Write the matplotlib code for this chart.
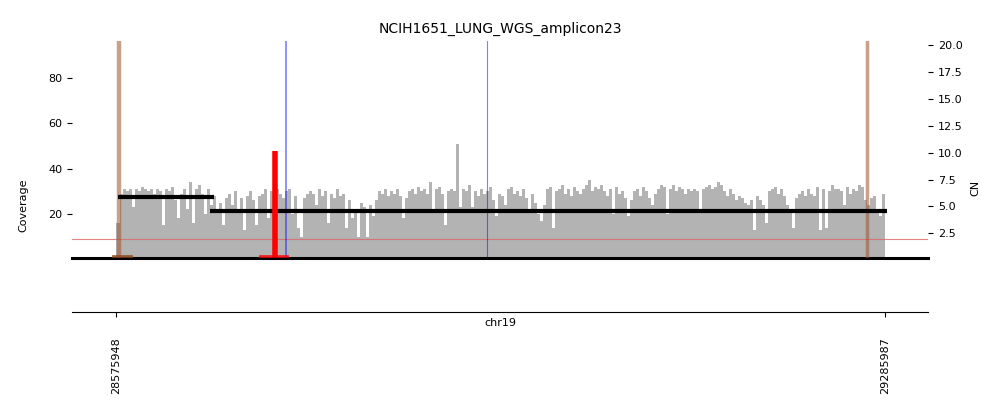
import numpy as np
import matplotlib
matplotlib.use('Agg')
import matplotlib.pyplot as plt

plt.rcParams['font.family'] = ['DejaVu Sans']

# 区间和标题
title = 'NCIH1651_LUNG_WGS_amplicon23'
chrom = 'chr19'
start = 28575948
end = 29285987

# 覆盖度 (每个 bin 一个值, 从 start 到 end 等分)
coverage = [
    16, 29, 31, 30, 31, 23, 31, 30, 32, 31, 30, 31, 29, 31, 30, 15,
    31, 30, 32, 26, 18, 29, 31, 22, 34, 16, 31, 33, 29, 20, 31, 24,
    28, 22, 25, 15, 27, 29, 24, 30, 21, 27, 13, 28, 30, 26, 15, 28,
    29, 31, 18, 30, 28, 31, 29, 27, 30, 31, 20, 28, 14, 10, 27, 29,
    30, 29, 24, 31, 28, 30, 16, 29, 27, 31, 28, 29, 14, 26, 18, 22,
    10, 25, 23, 10, 24, 19, 26, 30, 29, 31, 28, 30, 29, 31, 28, 18,
    27, 30, 31, 29, 32, 30, 31, 29, 34, 22, 31, 32, 29, 15, 30, 31,
    30, 51, 23, 31, 30, 33, 23, 30, 28, 31, 29, 30, 32, 26, 19, 29,
    28, 24, 31, 32, 29, 30, 28, 31, 27, 22, 29, 25, 20, 17, 24, 31,
    32, 14, 30, 31, 33, 29, 31, 28, 32, 30, 29, 31, 33, 35, 30, 32,
    31, 33, 30, 28, 31, 20, 32, 29, 30, 27, 19, 26, 30, 31, 28, 32,
    30, 27, 24, 29, 31, 33, 32, 20, 31, 33, 30, 32, 31, 29, 31, 30,
    31, 30, 21, 31, 32, 33, 31, 32, 34, 33, 30, 28, 31, 29, 26, 28,
    27, 25, 24, 26, 13, 28, 26, 24, 16, 30, 31, 32, 29, 31, 28, 24,
    22, 14, 27, 29, 30, 28, 31, 29, 28, 32, 13, 31, 14, 30, 33, 31,
    31, 30, 24, 32, 29, 31, 30, 33, 32, 26, 24, 27, 28, 22, 19, 29,
]

# CN 分段 (起点, 终点, CN)
seg_start = [28577600, 28662600]
seg_end = [28666300, 29287500]
seg_cn = [5.86, 4.62]

# 断点
brown_pos = [28577800, 29269800]
red_pos = 28722400
red_cn = 10.15
blue_pos = [28732300, 28918500]
blue_lw = [1.2, 0.8]

fig = plt.figure(figsize=(10, 4.16), dpi=100)
ax1 = fig.add_axes([0.072, 0.381, 0.856, 0.5205])
ax2 = ax1.twinx()

edges = np.linspace(start, end, len(coverage) + 1)
ax1.stairs(coverage, edges, fill=True, color='#b3b3b3', linewidth=0, zorder=1)

ax1.set_xlim(28534834, 29325715)
ax1.set_ylim(0.75, 96.46)
ax2.set_ylim(0.25, 20.4)

# CN=2 参考线
ax2.axhline(2, color='#e06666', linewidth=0.8, alpha=0.8, zorder=2)

for s, e, c in zip(seg_start, seg_end, seg_cn):
    ax2.plot([s, e], [c, c], color='black', linewidth=3, solid_capstyle='butt', zorder=5)

for p in brown_pos:
    ax2.axvline(p, color='#a0522d', alpha=0.55, linewidth=3.2 if p == brown_pos[0] else 2.5, zorder=4)
ax2.plot([28573000, 28589500], [0.4, 0.4], color='#8b4513', linewidth=2, alpha=0.8, zorder=4)

ax2.plot([red_pos, red_pos], [0.3, red_cn], color='red', linewidth=4, solid_capstyle='butt', zorder=6)
ax2.plot([28708200, 28733500], [0.4, 0.4], color='red', linewidth=2, alpha=0.8, zorder=4)

for p, lw in zip(blue_pos, blue_lw):
    ax2.axvline(p, color='blue', alpha=0.5, linewidth=lw, zorder=3)

for ax in (ax1, ax2):
    for side in ('top', 'left', 'right'):
        ax.spines[side].set_visible(False)
    ax.tick_params(labelsize=8)
ax1.spines['bottom'].set_linewidth(2.2)
ax2.spines['bottom'].set_visible(False)
ax1.set_xticks([])
ax1.set_yticks([20, 40, 60, 80])
ax2.set_yticks([2.5, 5, 7.5, 10, 12.5, 15, 17.5, 20])
ax1.set_ylabel('Coverage', fontsize=8)
ax1.yaxis.set_label_coords(-0.0514, 0.2425)
ax2.set_ylabel('CN', fontsize=8)
ax2.yaxis.set_label_coords(1.049, 0.323)
ax1.set_title(title, fontsize=10)

# 下方坐标轴
ax3 = fig.add_axes([0.072, 0.25, 0.856, 0.05])
ax3.set_xlim(ax1.get_xlim())
ax3.set_yticks([])
for side in ('top', 'left', 'right'):
    ax3.spines[side].set_visible(False)
ax3.set_xticks([start, end])
ax3.set_xticklabels([str(start), str(end)], rotation=90, fontsize=8)
ax3.tick_params(axis='x', pad=14.5)
ax3.text(0.5, -0.53, chrom, transform=ax3.transAxes, ha='center', va='center', fontsize=8)
ax3.patch.set_visible(False)

fig.savefig('out.png', dpi=100)
